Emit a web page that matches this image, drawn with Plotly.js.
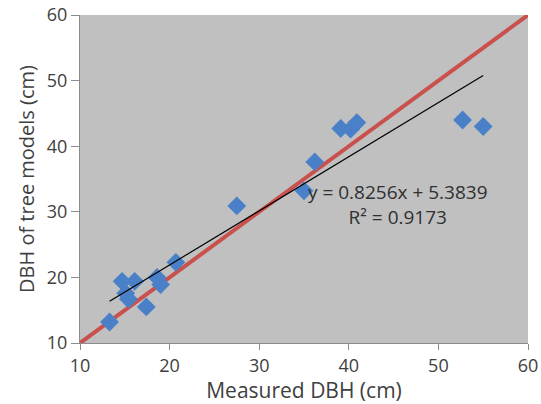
<!DOCTYPE html>
<html>
<head>
<meta charset="utf-8">
<script src="https://cdn.plot.ly/plotly-3.0.1.min.js"></script>
<style>html,body{margin:0;padding:0;background:#fff;}#chart{width:541px;height:404px;}</style>
</head>
<body>
<div id="chart"></div>
<script>
// Data
const measuredDBH = [13.3, 14.7, 16.1, 15.1, 15.4, 17.4, 18.6, 19.0, 20.7, 27.5, 35.0, 36.2, 39.1, 40.2, 40.9, 52.7, 55.0];
const modelDBH    = [13.2, 19.4, 19.4, 17.6, 16.7, 15.5, 20.0, 18.9, 22.3, 30.9, 33.2, 37.6, 42.7, 42.6, 43.6, 44.0, 43.0];
const trendSlope = 0.8256;
const trendIntercept = 5.3839;
const rSquared = 0.9173;
const oneToOne = [10, 60];
const xTicks = [10, 20, 30, 40, 50, 60];
const yTicks = [10, 20, 30, 40, 50, 60];

const xMin = Math.min(...measuredDBH), xMax = Math.max(...measuredDBH);
const trendX = [xMin, xMax];
const trendY = trendX.map(v => trendSlope * v + trendIntercept);

const font = "'Open Sans', sans-serif";

const traces = [
  {x: oneToOne, y: oneToOne, mode: 'lines', line: {color: '#c9504c', width: 4}, hoverinfo: 'skip'},
  {x: measuredDBH, y: modelDBH, mode: 'markers', marker: {symbol: 'diamond', size: 14.5, color: '#4a80c8'}},
  {x: trendX, y: trendY, mode: 'lines', line: {color: '#000', width: 1.2}}
];

const px2x = p => 10 + (p - 80) / 448 * 50;
const py2y = p => 10 + (343 - p) / 328 * 50;

const layout = {
  width: 541, height: 404,
  margin: {l: 80, r: 13, t: 15, b: 61},
  paper_bgcolor: '#fff',
  plot_bgcolor: '#c0c0c0',
  showlegend: false,
  font: {family: font, color: '#404040', size: 16},
  xaxis: {
    range: [10, 60], tickvals: xTicks, ticktext: xTicks.map(String),
    showgrid: false, zeroline: false, showline: true, linecolor: '#8c8c8c', linewidth: 1,
    ticks: 'outside', ticklen: 6, tickcolor: '#8c8c8c',
    tickfont: {size: 18, color: '#404040'},
    title: {text: 'Measured DBH (cm)', font: {size: 21, color: '#404040'}, standoff: 3}
  },
  yaxis: {
    range: [10, 60], tickvals: yTicks, ticktext: yTicks.map(String),
    showgrid: false, zeroline: false, showline: true, linecolor: '#8c8c8c', linewidth: 1,
    ticks: 'outside', ticklen: 8, tickcolor: '#8c8c8c',
    tickfont: {size: 18, color: '#404040'},
    title: {text: 'DBH of tree models (cm)', font: {size: 20, color: '#404040'}, standoff: 6}
  },
  annotations: [
    {xref: 'x', yref: 'y', x: px2x(398), y: py2y(204), align: 'center',
     text: 'y = ' + trendSlope + 'x + ' + trendIntercept + '<br>R² = ' + rSquared,
     showarrow: false, font: {size: 19, color: '#303030'}}
  ]
};

Plotly.newPlot('chart', traces, layout, {displayModeBar: false, staticPlot: true});
</script>
</body>
</html>
